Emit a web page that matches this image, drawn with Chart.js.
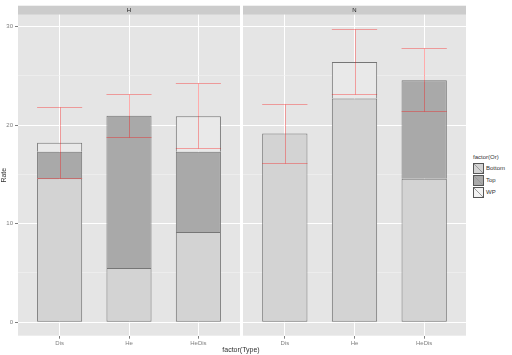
<!DOCTYPE html>
<html>
<head>
<meta charset="utf-8">
<script src="https://cdn.jsdelivr.net/npm/chart.js@4/dist/chart.umd.min.js"></script>
<style>
  html, body { margin:0; padding:0; background:#ffffff; }
  body { width:512px; height:355px; position:relative; overflow:hidden; font-family:"Liberation Sans", Arial, sans-serif; }
  canvas { position:absolute; top:0; }
  #xtitle { position:absolute; left:191px; width:100px; top:345px; text-align:center; font-size:7px; color:#333; line-height:9px; }
  #legend { position:absolute; left:473px; top:153px; font-size:6px; color:#333; }
  #legend .ttl { height:9px; line-height:9px; }
  #legend .row { height:12px; display:flex; align-items:center; }
  #legend .key { width:11px; height:11px; border:0.5px solid #555; box-sizing:border-box; margin-right:2px; }
</style>
</head>
<body>
<canvas id="cH" width="241" height="355" style="left:0px;width:241px;height:355px"></canvas>
<canvas id="cN" width="224" height="355" style="left:242px;width:224px;height:355px"></canvas>
<div id="xtitle">factor(Type)</div>
<div id="legend"></div>
<script>
// ---- data ----
const categories = ['Dis', 'He', 'HeDis'];
const facets = ['H', 'N'];
const orLevels = ['Bottom', 'Top', 'WP'];
const bottomH = [14.6, 5.5, 9.15];
const topH    = [2.7, 15.45, 8.15];
const wpH     = [0.9, null, 3.6];
const bottomN = [19.15, 22.7, 14.55];
const topN    = [null, null, 10.0];
const wpN     = [null, 3.7, null];
const errLowH  = [14.6, 18.8, 17.65];
const errHighH = [21.8, 23.2, 24.3];
const errLowN  = [16.15, 23.15, 21.4];
const errHighN = [22.1, 29.75, 27.8];
const yTicks = [0, 10, 20, 30];
const yMinorTicks = [5, 15, 25];

// ---- styling ----
const fills = { Bottom: '#d3d3d3', Top: '#a9a9a9', WP: '#e9e9e9' };
const legendFills = { Bottom: '#d3d3d3', Top: '#a9a9a9', WP: '#f3f3f3' };
const barBorder = '#767676';
const errColor = 'rgba(255,0,0,0.33)';
const BAR_W = 0.65;

function pts(arr) { return arr.map((v, i) => ({ x: i + 1, y: v })); }

const panelBg = {
  id: 'panelBg',
  beforeDraw(chart) {
    const { ctx, chartArea: a } = chart;
    ctx.save();
    ctx.fillStyle = '#e5e5e5';
    ctx.fillRect(a.left, a.top, a.right - a.left, a.bottom - a.top);
    // strip
    ctx.fillStyle = '#cccccc';
    ctx.fillRect(a.left, a.top - 9, a.right - a.left, 9);
    ctx.fillStyle = '#1a1a1a';
    ctx.font = '6px "Liberation Sans", Arial, sans-serif';
    ctx.textAlign = 'center';
    ctx.textBaseline = 'middle';
    ctx.fillText(chart.options.plugins.facetTitle, (a.left + a.right) / 2, a.top - 4.5);
    ctx.restore();
  }
};

const errorBars = {
  id: 'errorBars',
  afterDatasetsDraw(chart) {
    const { ctx, scales: { x, y } } = chart;
    const lo = chart.options.plugins.errLow, hi = chart.options.plugins.errHigh;
    ctx.save();
    ctx.strokeStyle = errColor;
    ctx.lineWidth = 1;
    lo.forEach((l, i) => {
      const cx = Math.round(x.getPixelForValue(i + 1)) + 0.5;
      const xl = x.getPixelForValue(i + 1 - BAR_W / 2);
      const xr = x.getPixelForValue(i + 1 + BAR_W / 2);
      const yl = Math.round(y.getPixelForValue(l)) + 0.5;
      const yh = Math.round(y.getPixelForValue(hi[i])) + 0.5;
      ctx.beginPath();
      ctx.moveTo(cx, yl); ctx.lineTo(cx, yh);
      ctx.moveTo(xl, yl); ctx.lineTo(xr, yl);
      ctx.moveTo(xl, yh); ctx.lineTo(xr, yh);
      ctx.stroke();
    });
    ctx.restore();
  }
};

function makeChart(id, facet, series, lo, hi, showY) {
  const font = { family: '"Liberation Sans", Arial, sans-serif', size: 6 };
  return new Chart(document.getElementById(id), {
    type: 'bar',
    data: {
      datasets: orLevels.map((lvl, k) => ({
        label: lvl,
        data: pts(series[k]),
        backgroundColor: fills[lvl],
        borderColor: barBorder,
        borderWidth: 1,
        borderSkipped: k === 0 ? false : 'bottom',
        categoryPercentage: 1,
        barPercentage: BAR_W
      }))
    },
    options: {
      responsive: false,
      animation: false,
      devicePixelRatio: 1,
      layout: { padding: showY ? { left: 0, right: 1, top: 14.7, bottom: 0 } : { left: 1, right: 0, top: 14.7, bottom: 0 } },
      plugins: {
        legend: { display: false },
        tooltip: { enabled: false },
        facetTitle: facet,
        errLow: lo,
        errHigh: hi
      },
      scales: {
        x: {
          type: 'linear',
          stacked: true,
          offset: false,
          min: 0.4, max: 3.6,
          afterBuildTicks: s => { s.ticks = categories.map((c, i) => ({ value: i + 1 })); },
          afterFit: s => { s.height = 19.3; },
          ticks: { callback: v => categories[v - 1] || '', color: '#7f7f7f', font, padding: 1, maxRotation: 0, autoSkip: false },
          grid: { offset: false, color: '#ffffff', lineWidth: 1, tickLength: 3, tickColor: '#7f7f7f', drawOnChartArea: true },
          border: { display: false }
        },
        y: {
          stacked: true,
          min: -1.36, max: 31.2,
          afterBuildTicks: s => { s.ticks = yTicks.concat(yMinorTicks).sort((a, b) => a - b).map(v => ({ value: v })); },
          afterFit: s => { s.width = showY ? 18 : 0; },
          ticks: { display: showY, callback: v => yTicks.includes(v) ? String(v) : '', color: '#7f7f7f', font, padding: 2 },
          grid: {
            color: c => yTicks.includes(c.tick.value) ? '#ffffff' : '#f2f2f2',
            lineWidth: c => yTicks.includes(c.tick.value) ? 1 : 0.6,
            tickLength: 3,
            drawTicks: showY,
            tickColor: c => (c.tick && yTicks.includes(c.tick.value)) ? '#7f7f7f' : 'rgba(0,0,0,0)'
          },
          border: { display: false },
          title: { display: showY, text: 'Rate', color: '#333', font: { family: font.family, size: 7 }, padding: 0 }
        }
      }
    },
    plugins: [panelBg, errorBars]
  });
}

makeChart('cH', facets[0], [bottomH, topH, wpH], errLowH, errHighH, true);
makeChart('cN', facets[1], [bottomN, topN, wpN], errLowN, errHighN, false);

// legend
const lg = document.getElementById('legend');
let html = '<div class="ttl">factor(Or)</div>';
orLevels.forEach(l => {
  const f = legendFills[l];
  html += '<div class="row"><div class="key" style="background:linear-gradient(to top right,' + f + ' calc(50% - 0.5px),#9a9a9a 50%,' + f + ' calc(50% + 0.5px))"></div><span>' + l + '</span></div>';
});
lg.innerHTML = html;
</script>
</body>
</html>
